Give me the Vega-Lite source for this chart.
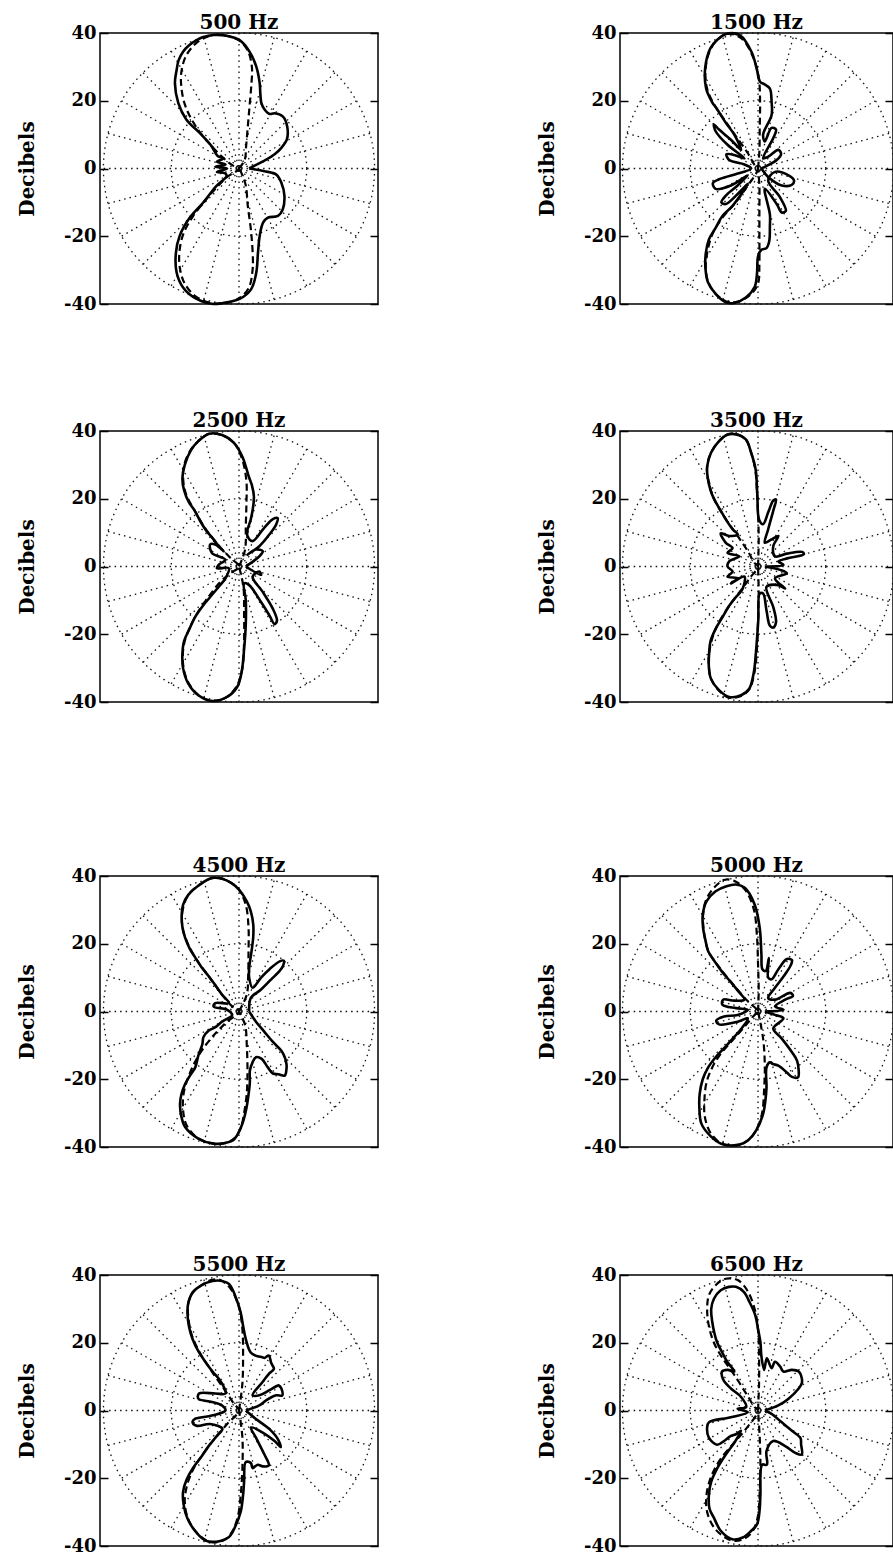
{
"$schema":"https://vega.github.io/schema/vega-lite/v6.json",
"background":"white",
"padding":{"left":16,"top":12,"right":0,"bottom":0},
"config":{
 "view":{"stroke":"black","strokeWidth":1.5},
 "line":{"interpolate":"catmull-rom"},
 "axis":{"grid":false,"domain":false,"tickSize":-8,"tickWidth":1.5,"tickColor":"black","labelFont":"DejaVu Serif","labelFontWeight":"bold","labelFontSize":18,"labelColor":"black","labelPadding":12,"labelFlush":false,"labelOverlap":false,"labelExpr":"datum.value < 0 ? '-' + (-datum.value) : '' + datum.value","titleFont":"DejaVu Serif","titleFontWeight":"bold","titleFontSize":20,"titleColor":"black","titlePadding":26},
 "title":{"font":"DejaVu Serif","fontWeight":"bold","fontSize":20,"color":"black","offset":-9,"frame":"group","anchor":"middle"}
},
"datasets":{
 "spokes":[{"x":40,"y":0,"x2":-40,"y2":0},{"x":38.64,"y":10.35,"x2":-38.64,"y2":-10.35},{"x":34.64,"y":20,"x2":-34.64,"y2":-20},{"x":28.28,"y":28.28,"x2":-28.28,"y2":-28.28},{"x":20,"y":34.64,"x2":-20,"y2":-34.64},{"x":10.35,"y":38.64,"x2":-10.35,"y2":-38.64},{"x":0,"y":40,"x2":0,"y2":-40},{"x":-10.35,"y":38.64,"x2":10.35,"y2":-38.64},{"x":-20,"y":34.64,"x2":20,"y2":-34.64},{"x":-28.28,"y":28.28,"x2":28.28,"y2":-28.28},{"x":-34.64,"y":20,"x2":34.64,"y2":-20},{"x":-38.64,"y":10.35,"x2":38.64,"y2":-10.35}],
 "center":[{"x":0,"y":0}],
 "d500":[
{"s":"m","i":0,"x":3.0,"y":0.0},{"s":"m","i":1,"x":8.0,"y":2.6},{"s":"m","i":2,"x":10.5,"y":4.2},{"s":"m","i":3,"x":12.5,"y":6.1},{"s":"m","i":4,"x":14.1,"y":8.5},{"s":"m","i":5,"x":14.2,"y":12.5},{"s":"m","i":6,"x":12.9,"y":15.4},{"s":"m","i":7,"x":10.5,"y":16.3},{"s":"m","i":8,"x":9.0,"y":16.1},{"s":"m","i":9,"x":7.5,"y":17.5},{"s":"m","i":10,"x":6.6,"y":19.3},{"s":"m","i":11,"x":6.3,"y":22.0},{"s":"m","i":12,"x":6.1,"y":25.2},{"s":"m","i":13,"x":5.1,"y":30.1},{"s":"m","i":14,"x":3.1,"y":34.5},{"s":"m","i":15,"x":0.2,"y":37.9},{"s":"m","i":16,"x":-3.7,"y":39.2},{"s":"m","i":17,"x":-7.6,"y":39.4},{"s":"m","i":18,"x":-10.5,"y":38.8},{"s":"m","i":19,"x":-12.5,"y":37.9},{"s":"m","i":20,"x":-14.8,"y":36.3},{"s":"m","i":21,"x":-16.5,"y":34.5},{"s":"m","i":22,"x":-17.8,"y":32.0},{"s":"m","i":23,"x":-18.4,"y":29.1},{"s":"m","i":24,"x":-18.9,"y":25.2},{"s":"m","i":25,"x":-17.9,"y":19.3},{"s":"m","i":26,"x":-15.5,"y":14.4},{"s":"m","i":27,"x":-11.6,"y":10.5},{"s":"m","i":28,"x":-8.1,"y":6.6},{"s":"m","i":29,"x":-6.2,"y":3.6},{"s":"m","i":30,"x":-4.5,"y":3.0},{"s":"m","i":31,"x":-6.5,"y":2.0},{"s":"m","i":32,"x":-4.0,"y":1.2},{"s":"m","i":33,"x":-7.0,"y":0.5},{"s":"m","i":34,"x":-3.5,"y":0.0},{"s":"m","i":35,"x":-6.5,"y":-1.0},{"s":"m","i":36,"x":-4.0,"y":-1.5},{"s":"m","i":37,"x":-3.7,"y":-2.3},{"s":"m","i":38,"x":-6.7,"y":-5.2},{"s":"m","i":39,"x":-10.6,"y":-10.1},{"s":"m","i":40,"x":-14.5,"y":-14.5},{"s":"m","i":41,"x":-17.5,"y":-19.9},{"s":"m","i":42,"x":-18.6,"y":-24.8},{"s":"m","i":43,"x":-18.4,"y":-30.7},{"s":"m","i":44,"x":-16.5,"y":-35.1},{"s":"m","i":45,"x":-12.5,"y":-38.5},{"s":"m","i":46,"x":-7.6,"y":-40.0},{"s":"m","i":47,"x":-4.7,"y":-39.7},{"s":"m","i":48,"x":0.2,"y":-38.5},{"s":"m","i":49,"x":3.6,"y":-35.6},{"s":"m","i":50,"x":5.1,"y":-30.7},{"s":"m","i":51,"x":5.6,"y":-24.8},{"s":"m","i":52,"x":6.1,"y":-19.9},{"s":"m","i":53,"x":7.1,"y":-16.0},{"s":"m","i":54,"x":8.5,"y":-14.5},{"s":"m","i":55,"x":11.5,"y":-14.0},{"s":"m","i":56,"x":12.9,"y":-12.1},{"s":"m","i":57,"x":13.4,"y":-8.1},{"s":"m","i":58,"x":12.5,"y":-4.2},{"s":"m","i":59,"x":11.0,"y":-1.8},{"s":"m","i":60,"x":7.5,"y":-0.8},{"s":"m","i":61,"x":3.0,"y":0.0},
{"s":"t","i":0,"x":0.0,"y":0.0},{"s":"t","i":1,"x":1.7,"y":2.6},{"s":"t","i":2,"x":2.1,"y":6.6},{"s":"t","i":3,"x":2.6,"y":12.4},{"s":"t","i":4,"x":3.1,"y":18.3},{"s":"t","i":5,"x":3.6,"y":24.2},{"s":"t","i":6,"x":3.8,"y":30.0},{"s":"t","i":7,"x":2.5,"y":35.0},{"s":"t","i":8,"x":0.0,"y":37.8},{"s":"t","i":9,"x":-3.7,"y":39.2},{"s":"t","i":10,"x":-7.6,"y":39.4},{"s":"t","i":11,"x":-12.0,"y":37.5},{"s":"t","i":12,"x":-15.5,"y":33.5},{"s":"t","i":13,"x":-17.0,"y":28.5},{"s":"t","i":14,"x":-17.0,"y":24.0},{"s":"t","i":15,"x":-16.0,"y":19.0},{"s":"t","i":16,"x":-14.0,"y":14.5},{"s":"t","i":17,"x":-11.0,"y":10.0},{"s":"t","i":18,"x":-7.5,"y":6.0},{"s":"t","i":19,"x":-4.5,"y":3.0},{"s":"t","i":20,"x":-2.0,"y":1.0},{"s":"t","i":21,"x":0.0,"y":0.0},{"s":"t","i":22,"x":-3.5,"y":-2.5},{"s":"t","i":23,"x":-6.5,"y":-5.5},{"s":"t","i":24,"x":-10.0,"y":-9.5},{"s":"t","i":25,"x":-13.5,"y":-14.0},{"s":"t","i":26,"x":-16.3,"y":-19.0},{"s":"t","i":27,"x":-17.5,"y":-24.0},{"s":"t","i":28,"x":-17.5,"y":-29.0},{"s":"t","i":29,"x":-16.0,"y":-34.0},{"s":"t","i":30,"x":-12.5,"y":-38.0},{"s":"t","i":31,"x":-7.6,"y":-39.8},{"s":"t","i":32,"x":-3.0,"y":-39.5},{"s":"t","i":33,"x":0.5,"y":-38.0},{"s":"t","i":34,"x":3.0,"y":-35.0},{"s":"t","i":35,"x":4.0,"y":-30.0},{"s":"t","i":36,"x":4.1,"y":-26.8},{"s":"t","i":37,"x":3.6,"y":-18.9},{"s":"t","i":38,"x":2.6,"y":-11.1},{"s":"t","i":39,"x":2.0,"y":-5.0},{"s":"t","i":40,"x":0.8,"y":-1.5},{"s":"t","i":41,"x":0.0,"y":0.0}
 ],
 "d1500":[
{"s":"m","i":0,"x":1.0,"y":0.0},{"s":"m","i":1,"x":2.0,"y":0.5},{"s":"m","i":2,"x":5.5,"y":2.5},{"s":"m","i":3,"x":6.8,"y":4.3},{"s":"m","i":4,"x":6.0,"y":5.5},{"s":"m","i":5,"x":3.0,"y":3.5},{"s":"m","i":6,"x":1.5,"y":3.0},{"s":"m","i":7,"x":4.5,"y":9.0},{"s":"m","i":8,"x":5.3,"y":11.5},{"s":"m","i":9,"x":4.0,"y":12.0},{"s":"m","i":10,"x":2.0,"y":8.0},{"s":"m","i":11,"x":1.5,"y":10.0},{"s":"m","i":12,"x":4.0,"y":15.8},{"s":"m","i":13,"x":4.0,"y":19.7},{"s":"m","i":14,"x":3.5,"y":23.6},{"s":"m","i":15,"x":2.0,"y":24.8},{"s":"m","i":16,"x":0.6,"y":25.6},{"s":"m","i":17,"x":-0.4,"y":29.5},{"s":"m","i":18,"x":-1.9,"y":34.4},{"s":"m","i":19,"x":-5.3,"y":39.3},{"s":"m","i":20,"x":-9.2,"y":39.8},{"s":"m","i":21,"x":-12.0,"y":38.0},{"s":"m","i":22,"x":-14.1,"y":35.4},{"s":"m","i":23,"x":-15.6,"y":29.5},{"s":"m","i":24,"x":-15.3,"y":23.6},{"s":"m","i":25,"x":-13.6,"y":19.7},{"s":"m","i":26,"x":-12.2,"y":17.7},{"s":"m","i":27,"x":-9.5,"y":13.5},{"s":"m","i":28,"x":-7.0,"y":10.0},{"s":"m","i":29,"x":-5.0,"y":5.5},{"s":"m","i":30,"x":-8.0,"y":8.5},{"s":"m","i":31,"x":-11.5,"y":11.5},{"s":"m","i":32,"x":-13.0,"y":13.0},{"s":"m","i":33,"x":-12.5,"y":11.0},{"s":"m","i":34,"x":-9.0,"y":7.0},{"s":"m","i":35,"x":-4.0,"y":3.0},{"s":"m","i":36,"x":-7.0,"y":4.0},{"s":"m","i":37,"x":-9.3,"y":4.2},{"s":"m","i":38,"x":-8.5,"y":2.5},{"s":"m","i":39,"x":-4.0,"y":1.2},{"s":"m","i":40,"x":-2.0,"y":0.0},{"s":"m","i":41,"x":-6.0,"y":-1.5},{"s":"m","i":42,"x":-11.0,"y":-3.0},{"s":"m","i":43,"x":-13.3,"y":-4.3},{"s":"m","i":44,"x":-12.5,"y":-6.0},{"s":"m","i":45,"x":-8.0,"y":-5.0},{"s":"m","i":46,"x":-3.0,"y":-2.0},{"s":"m","i":47,"x":-6.0,"y":-5.0},{"s":"m","i":48,"x":-9.5,"y":-8.0},{"s":"m","i":49,"x":-10.8,"y":-10.0},{"s":"m","i":50,"x":-9.5,"y":-10.5},{"s":"m","i":51,"x":-5.5,"y":-7.0},{"s":"m","i":52,"x":-3.0,"y":-4.5},{"s":"m","i":53,"x":-7.5,"y":-11.0},{"s":"m","i":54,"x":-10.5,"y":-14.0},{"s":"m","i":55,"x":-12.5,"y":-17.5},{"s":"m","i":56,"x":-14.5,"y":-21.0},{"s":"m","i":57,"x":-15.4,"y":-25.0},{"s":"m","i":58,"x":-15.5,"y":-29.5},{"s":"m","i":59,"x":-14.8,"y":-33.5},{"s":"m","i":60,"x":-12.5,"y":-37.0},{"s":"m","i":61,"x":-9.5,"y":-39.5},{"s":"m","i":62,"x":-7.0,"y":-39.7},{"s":"m","i":63,"x":-3.5,"y":-38.0},{"s":"m","i":64,"x":-1.0,"y":-35.0},{"s":"m","i":65,"x":-0.3,"y":-31.0},{"s":"m","i":66,"x":0.0,"y":-26.0},{"s":"m","i":67,"x":1.0,"y":-24.0},{"s":"m","i":68,"x":2.5,"y":-23.5},{"s":"m","i":69,"x":3.3,"y":-21.5},{"s":"m","i":70,"x":3.5,"y":-17.0},{"s":"m","i":71,"x":3.5,"y":-13.6},{"s":"m","i":72,"x":2.0,"y":-6.0},{"s":"m","i":73,"x":5.5,"y":-10.5},{"s":"m","i":74,"x":7.0,"y":-13.0},{"s":"m","i":75,"x":8.2,"y":-12.5},{"s":"m","i":76,"x":6.5,"y":-8.5},{"s":"m","i":77,"x":3.0,"y":-3.5},{"s":"m","i":78,"x":5.0,"y":-1.0},{"s":"m","i":79,"x":9.0,"y":-2.0},{"s":"m","i":80,"x":10.6,"y":-3.5},{"s":"m","i":81,"x":10.0,"y":-4.8},{"s":"m","i":82,"x":7.0,"y":-5.0},{"s":"m","i":83,"x":3.0,"y":-2.5},{"s":"m","i":84,"x":1.0,"y":0.0},
{"s":"t","i":0,"x":0.0,"y":0.0},{"s":"t","i":1,"x":0.4,"y":5.0},{"s":"t","i":2,"x":0.5,"y":12.0},{"s":"t","i":3,"x":0.6,"y":20.0},{"s":"t","i":4,"x":0.2,"y":27.0},{"s":"t","i":5,"x":-1.5,"y":33.0},{"s":"t","i":6,"x":-5.0,"y":38.5},{"s":"t","i":7,"x":-9.2,"y":39.8},{"s":"t","i":8,"x":-12.5,"y":37.5},{"s":"t","i":9,"x":-14.5,"y":34.0},{"s":"t","i":10,"x":-15.5,"y":29.0},{"s":"t","i":11,"x":-15.0,"y":23.5},{"s":"t","i":12,"x":-13.0,"y":19.0},{"s":"t","i":13,"x":-10.0,"y":14.5},{"s":"t","i":14,"x":-6.5,"y":9.5},{"s":"t","i":15,"x":-3.0,"y":4.5},{"s":"t","i":16,"x":-1.0,"y":1.0},{"s":"t","i":17,"x":0.0,"y":0.0},{"s":"t","i":18,"x":-3.0,"y":-5.0},{"s":"t","i":19,"x":-7.0,"y":-10.5},{"s":"t","i":20,"x":-10.5,"y":-14.5},{"s":"t","i":21,"x":-13.5,"y":-19.5},{"s":"t","i":22,"x":-15.0,"y":-25.0},{"s":"t","i":23,"x":-15.4,"y":-30.0},{"s":"t","i":24,"x":-14.5,"y":-34.0},{"s":"t","i":25,"x":-12.0,"y":-37.5},{"s":"t","i":26,"x":-8.5,"y":-39.5},{"s":"t","i":27,"x":-5.0,"y":-39.0},{"s":"t","i":28,"x":-2.0,"y":-37.0},{"s":"t","i":29,"x":0.0,"y":-34.0},{"s":"t","i":30,"x":0.4,"y":-28.0},{"s":"t","i":31,"x":0.4,"y":-20.0},{"s":"t","i":32,"x":0.4,"y":-12.0},{"s":"t","i":33,"x":0.4,"y":-5.0},{"s":"t","i":34,"x":0.0,"y":0.0}
 ],
 "d2500":[
{"s":"m","i":0,"x":2.0,"y":0.0},{"s":"m","i":1,"x":6.0,"y":3.0},{"s":"m","i":2,"x":7.0,"y":4.5},{"s":"m","i":3,"x":5.0,"y":5.0},{"s":"m","i":4,"x":2.5,"y":3.5},{"s":"m","i":5,"x":6.0,"y":6.0},{"s":"m","i":6,"x":9.0,"y":9.5},{"s":"m","i":7,"x":11.0,"y":12.5},{"s":"m","i":8,"x":11.4,"y":14.3},{"s":"m","i":9,"x":10.0,"y":14.0},{"s":"m","i":10,"x":7.5,"y":11.5},{"s":"m","i":11,"x":4.0,"y":7.5},{"s":"m","i":12,"x":2.5,"y":9.0},{"s":"m","i":13,"x":2.5,"y":10.8},{"s":"m","i":14,"x":3.5,"y":14.0},{"s":"m","i":15,"x":4.4,"y":20.6},{"s":"m","i":16,"x":3.8,"y":24.0},{"s":"m","i":17,"x":2.9,"y":26.5},{"s":"m","i":18,"x":1.0,"y":32.4},{"s":"m","i":19,"x":-1.5,"y":36.5},{"s":"m","i":20,"x":-5.0,"y":38.8},{"s":"m","i":21,"x":-8.8,"y":39.2},{"s":"m","i":22,"x":-12.0,"y":37.0},{"s":"m","i":23,"x":-14.2,"y":34.3},{"s":"m","i":24,"x":-16.0,"y":30.0},{"s":"m","i":25,"x":-16.7,"y":26.0},{"s":"m","i":26,"x":-16.2,"y":22.5},{"s":"m","i":27,"x":-14.8,"y":19.0},{"s":"m","i":28,"x":-13.2,"y":16.7},{"s":"m","i":29,"x":-11.5,"y":13.5},{"s":"m","i":30,"x":-9.8,"y":10.8},{"s":"m","i":31,"x":-7.5,"y":8.0},{"s":"m","i":32,"x":-5.9,"y":5.9},{"s":"m","i":33,"x":-4.5,"y":4.5},{"s":"m","i":34,"x":-7.0,"y":6.5},{"s":"m","i":35,"x":-8.5,"y":6.5},{"s":"m","i":36,"x":-8.0,"y":4.0},{"s":"m","i":37,"x":-4.0,"y":2.0},{"s":"m","i":38,"x":-6.0,"y":0.5},{"s":"m","i":39,"x":-6.5,"y":-0.5},{"s":"m","i":40,"x":-3.0,"y":-0.5},{"s":"m","i":41,"x":-4.0,"y":-3.5},{"s":"m","i":42,"x":-5.9,"y":-5.9},{"s":"m","i":43,"x":-8.5,"y":-9.0},{"s":"m","i":44,"x":-10.8,"y":-11.8},{"s":"m","i":45,"x":-13.0,"y":-15.0},{"s":"m","i":46,"x":-14.7,"y":-18.6},{"s":"m","i":47,"x":-16.2,"y":-22.0},{"s":"m","i":48,"x":-16.7,"y":-26.0},{"s":"m","i":49,"x":-16.5,"y":-30.0},{"s":"m","i":50,"x":-15.0,"y":-34.5},{"s":"m","i":51,"x":-12.0,"y":-38.0},{"s":"m","i":52,"x":-7.8,"y":-39.7},{"s":"m","i":53,"x":-3.5,"y":-38.5},{"s":"m","i":54,"x":-0.5,"y":-35.5},{"s":"m","i":55,"x":0.8,"y":-31.0},{"s":"m","i":56,"x":1.5,"y":-24.5},{"s":"m","i":57,"x":2.0,"y":-17.0},{"s":"m","i":58,"x":2.0,"y":-10.0},{"s":"m","i":59,"x":1.5,"y":-5.0},{"s":"m","i":60,"x":3.0,"y":-5.5},{"s":"m","i":61,"x":6.5,"y":-10.5},{"s":"m","i":62,"x":9.0,"y":-14.5},{"s":"m","i":63,"x":10.5,"y":-17.0},{"s":"m","i":64,"x":11.2,"y":-16.0},{"s":"m","i":65,"x":10.0,"y":-12.5},{"s":"m","i":66,"x":7.0,"y":-7.5},{"s":"m","i":67,"x":4.0,"y":-3.0},{"s":"m","i":68,"x":6.0,"y":-1.5},{"s":"m","i":69,"x":6.5,"y":-2.5},{"s":"m","i":70,"x":2.0,"y":0.0},
{"s":"t","i":0,"x":0.0,"y":0.0},{"s":"t","i":1,"x":1.8,"y":5.0},{"s":"t","i":2,"x":2.0,"y":12.0},{"s":"t","i":3,"x":2.2,"y":19.0},{"s":"t","i":4,"x":2.2,"y":25.0},{"s":"t","i":5,"x":1.0,"y":31.5},{"s":"t","i":6,"x":-1.5,"y":36.5},{"s":"t","i":7,"x":-5.0,"y":38.8},{"s":"t","i":8,"x":-8.8,"y":39.2},{"s":"t","i":9,"x":-12.0,"y":37.0},{"s":"t","i":10,"x":-14.5,"y":34.0},{"s":"t","i":11,"x":-16.3,"y":29.5},{"s":"t","i":12,"x":-16.4,"y":25.0},{"s":"t","i":13,"x":-15.5,"y":21.0},{"s":"t","i":14,"x":-13.2,"y":16.7},{"s":"t","i":15,"x":-9.8,"y":11.0},{"s":"t","i":16,"x":-6.0,"y":6.2},{"s":"t","i":17,"x":-2.5,"y":2.5},{"s":"t","i":18,"x":0.0,"y":0.0},{"s":"t","i":19,"x":-2.5,"y":-2.0},{"s":"t","i":20,"x":-5.5,"y":-4.5},{"s":"t","i":21,"x":-9.0,"y":-9.0},{"s":"t","i":22,"x":-11.5,"y":-12.5},{"s":"t","i":23,"x":-14.0,"y":-17.0},{"s":"t","i":24,"x":-16.0,"y":-22.0},{"s":"t","i":25,"x":-16.6,"y":-27.0},{"s":"t","i":26,"x":-16.0,"y":-31.5},{"s":"t","i":27,"x":-14.5,"y":-35.0},{"s":"t","i":28,"x":-11.5,"y":-38.3},{"s":"t","i":29,"x":-7.8,"y":-39.7},{"s":"t","i":30,"x":-3.5,"y":-38.5},{"s":"t","i":31,"x":-0.5,"y":-35.0},{"s":"t","i":32,"x":1.0,"y":-30.0},{"s":"t","i":33,"x":1.5,"y":-22.0},{"s":"t","i":34,"x":1.5,"y":-14.0},{"s":"t","i":35,"x":1.3,"y":-6.0},{"s":"t","i":36,"x":0.0,"y":0.0}
 ],
 "d3500":[
{"s":"m","i":0,"x":2.0,"y":0.0},{"s":"m","i":1,"x":7.5,"y":0.5},{"s":"m","i":2,"x":6.0,"y":1.5},{"s":"m","i":3,"x":9.0,"y":2.5},{"s":"m","i":4,"x":13.5,"y":3.6},{"s":"m","i":5,"x":13.0,"y":4.3},{"s":"m","i":6,"x":8.5,"y":3.8},{"s":"m","i":7,"x":5.0,"y":3.0},{"s":"m","i":8,"x":4.5,"y":6.0},{"s":"m","i":9,"x":6.0,"y":9.0},{"s":"m","i":10,"x":4.0,"y":8.0},{"s":"m","i":11,"x":2.0,"y":7.0},{"s":"m","i":12,"x":3.0,"y":11.0},{"s":"m","i":13,"x":4.5,"y":16.5},{"s":"m","i":14,"x":5.3,"y":19.8},{"s":"m","i":15,"x":4.5,"y":19.5},{"s":"m","i":16,"x":3.0,"y":16.0},{"s":"m","i":17,"x":1.5,"y":12.5},{"s":"m","i":18,"x":0.3,"y":13.9},{"s":"m","i":19,"x":-0.2,"y":20.8},{"s":"m","i":20,"x":-0.7,"y":28.6},{"s":"m","i":21,"x":-2.0,"y":33.5},{"s":"m","i":22,"x":-3.6,"y":37.5},{"s":"m","i":23,"x":-6.5,"y":39.0},{"s":"m","i":24,"x":-9.0,"y":38.9},{"s":"m","i":25,"x":-11.5,"y":37.0},{"s":"m","i":26,"x":-13.9,"y":33.5},{"s":"m","i":27,"x":-15.0,"y":29.5},{"s":"m","i":28,"x":-14.9,"y":26.7},{"s":"m","i":29,"x":-14.0,"y":22.5},{"s":"m","i":30,"x":-12.9,"y":19.8},{"s":"m","i":31,"x":-11.0,"y":16.5},{"s":"m","i":32,"x":-9.5,"y":13.9},{"s":"m","i":33,"x":-7.5,"y":11.0},{"s":"m","i":34,"x":-6.0,"y":9.5},{"s":"m","i":35,"x":-8.5,"y":9.0},{"s":"m","i":36,"x":-11.0,"y":9.8},{"s":"m","i":37,"x":-9.5,"y":7.0},{"s":"m","i":38,"x":-7.5,"y":5.5},{"s":"m","i":39,"x":-9.0,"y":4.0},{"s":"m","i":40,"x":-5.5,"y":3.0},{"s":"m","i":41,"x":-8.5,"y":1.5},{"s":"m","i":42,"x":-9.0,"y":0.0},{"s":"m","i":43,"x":-7.5,"y":-1.5},{"s":"m","i":44,"x":-9.0,"y":-3.0},{"s":"m","i":45,"x":-6.0,"y":-3.5},{"s":"m","i":46,"x":-8.0,"y":-5.0},{"s":"m","i":47,"x":-4.0,"y":-3.0},{"s":"m","i":48,"x":-4.6,"y":-6.7},{"s":"m","i":49,"x":-6.5,"y":-9.0},{"s":"m","i":50,"x":-8.5,"y":-11.6},{"s":"m","i":51,"x":-10.5,"y":-15.0},{"s":"m","i":52,"x":-12.5,"y":-18.4},{"s":"m","i":53,"x":-14.0,"y":-22.0},{"s":"m","i":54,"x":-14.4,"y":-25.3},{"s":"m","i":55,"x":-14.5,"y":-29.5},{"s":"m","i":56,"x":-13.9,"y":-33.1},{"s":"m","i":57,"x":-11.5,"y":-36.5},{"s":"m","i":58,"x":-8.5,"y":-38.5},{"s":"m","i":59,"x":-5.0,"y":-38.0},{"s":"m","i":60,"x":-2.6,"y":-36.1},{"s":"m","i":61,"x":-1.2,"y":-31.0},{"s":"m","i":62,"x":-0.7,"y":-26.3},{"s":"m","i":63,"x":-0.2,"y":-20.0},{"s":"m","i":64,"x":0.1,"y":-15.5},{"s":"m","i":65,"x":0.5,"y":-8.0},{"s":"m","i":66,"x":1.5,"y":-8.0},{"s":"m","i":67,"x":2.5,"y":-13.0},{"s":"m","i":68,"x":3.5,"y":-17.5},{"s":"m","i":69,"x":4.5,"y":-18.0},{"s":"m","i":70,"x":5.3,"y":-16.5},{"s":"m","i":71,"x":4.5,"y":-12.0},{"s":"m","i":72,"x":2.5,"y":-6.0},{"s":"m","i":73,"x":6.0,"y":-5.5},{"s":"m","i":74,"x":8.0,"y":-6.5},{"s":"m","i":75,"x":5.0,"y":-3.5},{"s":"m","i":76,"x":8.5,"y":-2.0},{"s":"m","i":77,"x":6.5,"y":-1.0},{"s":"m","i":78,"x":2.0,"y":0.0},
{"s":"t","i":0,"x":0.0,"y":0.0},{"s":"t","i":1,"x":0.2,"y":8.0},{"s":"t","i":2,"x":0.0,"y":16.0},{"s":"t","i":3,"x":-0.3,"y":22.0},{"s":"t","i":4,"x":-0.8,"y":28.5},{"s":"t","i":5,"x":-2.0,"y":33.5},{"s":"t","i":6,"x":-3.6,"y":37.5},{"s":"t","i":7,"x":-6.5,"y":39.2},{"s":"t","i":8,"x":-9.0,"y":39.0},{"s":"t","i":9,"x":-11.5,"y":37.0},{"s":"t","i":10,"x":-13.9,"y":33.5},{"s":"t","i":11,"x":-15.0,"y":29.5},{"s":"t","i":12,"x":-14.9,"y":26.7},{"s":"t","i":13,"x":-13.0,"y":20.0},{"s":"t","i":14,"x":-9.5,"y":14.0},{"s":"t","i":15,"x":-6.0,"y":9.0},{"s":"t","i":16,"x":-3.0,"y":4.5},{"s":"t","i":17,"x":-1.0,"y":1.0},{"s":"t","i":18,"x":0.0,"y":0.0},{"s":"t","i":19,"x":-2.5,"y":-3.5},{"s":"t","i":20,"x":-5.0,"y":-7.0},{"s":"t","i":21,"x":-8.5,"y":-11.6},{"s":"t","i":22,"x":-12.5,"y":-18.4},{"s":"t","i":23,"x":-14.4,"y":-25.3},{"s":"t","i":24,"x":-14.5,"y":-29.5},{"s":"t","i":25,"x":-13.9,"y":-33.1},{"s":"t","i":26,"x":-11.5,"y":-36.7},{"s":"t","i":27,"x":-8.5,"y":-38.7},{"s":"t","i":28,"x":-5.0,"y":-38.2},{"s":"t","i":29,"x":-2.6,"y":-36.3},{"s":"t","i":30,"x":-1.0,"y":-31.0},{"s":"t","i":31,"x":-0.3,"y":-24.0},{"s":"t","i":32,"x":0.0,"y":-16.0},{"s":"t","i":33,"x":0.2,"y":-8.0},{"s":"t","i":34,"x":0.0,"y":0.0}
 ],
 "d4500":[
{"s":"m","i":0,"x":3.0,"y":0.0},{"s":"m","i":1,"x":3.5,"y":4.0},{"s":"m","i":2,"x":6.5,"y":6.5},{"s":"m","i":3,"x":9.5,"y":9.5},{"s":"m","i":4,"x":12.0,"y":12.0},{"s":"m","i":5,"x":13.0,"y":13.5},{"s":"m","i":6,"x":13.2,"y":15.0},{"s":"m","i":7,"x":12.0,"y":14.8},{"s":"m","i":8,"x":9.0,"y":12.5},{"s":"m","i":9,"x":6.5,"y":10.0},{"s":"m","i":10,"x":4.0,"y":7.0},{"s":"m","i":11,"x":3.0,"y":10.0},{"s":"m","i":12,"x":3.0,"y":12.9},{"s":"m","i":13,"x":3.7,"y":17.8},{"s":"m","i":14,"x":4.2,"y":22.0},{"s":"m","i":15,"x":4.2,"y":25.7},{"s":"m","i":16,"x":3.5,"y":29.5},{"s":"m","i":17,"x":2.3,"y":32.5},{"s":"m","i":18,"x":0.0,"y":36.0},{"s":"m","i":19,"x":-2.2,"y":37.9},{"s":"m","i":20,"x":-5.0,"y":39.2},{"s":"m","i":21,"x":-8.0,"y":39.4},{"s":"m","i":22,"x":-11.5,"y":37.5},{"s":"m","i":23,"x":-14.9,"y":34.5},{"s":"m","i":24,"x":-16.5,"y":31.5},{"s":"m","i":25,"x":-16.9,"y":28.6},{"s":"m","i":26,"x":-16.7,"y":25.0},{"s":"m","i":27,"x":-15.9,"y":21.8},{"s":"m","i":28,"x":-14.5,"y":18.5},{"s":"m","i":29,"x":-12.9,"y":15.9},{"s":"m","i":30,"x":-11.0,"y":13.0},{"s":"m","i":31,"x":-9.0,"y":10.5},{"s":"m","i":32,"x":-7.0,"y":7.8},{"s":"m","i":33,"x":-5.1,"y":5.1},{"s":"m","i":34,"x":-3.0,"y":2.5},{"s":"m","i":35,"x":-7.0,"y":2.5},{"s":"m","i":36,"x":-7.5,"y":1.5},{"s":"m","i":37,"x":-3.5,"y":0.5},{"s":"m","i":38,"x":-2.0,"y":-1.0},{"s":"m","i":39,"x":-5.0,"y":-3.0},{"s":"m","i":40,"x":-7.1,"y":-4.7},{"s":"m","i":41,"x":-9.0,"y":-5.7},{"s":"m","i":42,"x":-10.5,"y":-7.6},{"s":"m","i":43,"x":-10.8,"y":-9.6},{"s":"m","i":44,"x":-12.0,"y":-13.0},{"s":"m","i":45,"x":-12.9,"y":-16.5},{"s":"m","i":46,"x":-14.5,"y":-19.0},{"s":"m","i":47,"x":-15.9,"y":-21.4},{"s":"m","i":48,"x":-17.0,"y":-24.5},{"s":"m","i":49,"x":-17.4,"y":-27.3},{"s":"m","i":50,"x":-17.0,"y":-31.0},{"s":"m","i":51,"x":-15.9,"y":-34.1},{"s":"m","i":52,"x":-12.0,"y":-37.5},{"s":"m","i":53,"x":-7.5,"y":-39.0},{"s":"m","i":54,"x":-4.0,"y":-38.8},{"s":"m","i":55,"x":-1.7,"y":-38.0},{"s":"m","i":56,"x":0.0,"y":-35.5},{"s":"m","i":57,"x":1.3,"y":-32.2},{"s":"m","i":58,"x":2.2,"y":-28.5},{"s":"m","i":59,"x":2.7,"y":-25.3},{"s":"m","i":60,"x":3.2,"y":-21.0},{"s":"m","i":61,"x":3.2,"y":-17.5},{"s":"m","i":62,"x":4.0,"y":-15.0},{"s":"m","i":63,"x":5.0,"y":-13.5},{"s":"m","i":64,"x":6.7,"y":-14.0},{"s":"m","i":65,"x":8.5,"y":-16.5},{"s":"m","i":66,"x":10.0,"y":-18.3},{"s":"m","i":67,"x":11.6,"y":-18.5},{"s":"m","i":68,"x":13.5,"y":-18.9},{"s":"m","i":69,"x":14.0,"y":-17.0},{"s":"m","i":70,"x":14.0,"y":-15.5},{"s":"m","i":71,"x":13.5,"y":-13.5},{"s":"m","i":72,"x":12.5,"y":-11.6},{"s":"m","i":73,"x":10.0,"y":-9.0},{"s":"m","i":74,"x":7.5,"y":-6.0},{"s":"m","i":75,"x":5.0,"y":-3.0},{"s":"m","i":76,"x":3.0,"y":0.0},
{"s":"t","i":0,"x":0.0,"y":0.0},{"s":"t","i":1,"x":2.3,"y":5.0},{"s":"t","i":2,"x":2.7,"y":10.0},{"s":"t","i":3,"x":2.8,"y":17.0},{"s":"t","i":4,"x":2.8,"y":25.0},{"s":"t","i":5,"x":2.0,"y":31.5},{"s":"t","i":6,"x":0.0,"y":36.0},{"s":"t","i":7,"x":-2.2,"y":37.9},{"s":"t","i":8,"x":-5.0,"y":39.2},{"s":"t","i":9,"x":-8.0,"y":39.4},{"s":"t","i":10,"x":-11.5,"y":37.5},{"s":"t","i":11,"x":-14.9,"y":34.5},{"s":"t","i":12,"x":-16.6,"y":30.0},{"s":"t","i":13,"x":-16.7,"y":25.0},{"s":"t","i":14,"x":-15.5,"y":21.0},{"s":"t","i":15,"x":-12.9,"y":15.9},{"s":"t","i":16,"x":-9.0,"y":10.5},{"s":"t","i":17,"x":-5.1,"y":5.1},{"s":"t","i":18,"x":-2.0,"y":1.5},{"s":"t","i":19,"x":0.0,"y":0.0},{"s":"t","i":20,"x":-3.5,"y":-3.0},{"s":"t","i":21,"x":-6.5,"y":-6.0},{"s":"t","i":22,"x":-9.5,"y":-9.5},{"s":"t","i":23,"x":-12.5,"y":-14.0},{"s":"t","i":24,"x":-14.8,"y":-19.0},{"s":"t","i":25,"x":-16.3,"y":-24.0},{"s":"t","i":26,"x":-16.5,"y":-29.0},{"s":"t","i":27,"x":-15.5,"y":-33.5},{"s":"t","i":28,"x":-12.0,"y":-37.5},{"s":"t","i":29,"x":-7.5,"y":-39.0},{"s":"t","i":30,"x":-4.0,"y":-38.8},{"s":"t","i":31,"x":-1.5,"y":-37.5},{"s":"t","i":32,"x":0.5,"y":-34.5},{"s":"t","i":33,"x":1.5,"y":-30.0},{"s":"t","i":34,"x":2.3,"y":-24.0},{"s":"t","i":35,"x":2.5,"y":-17.0},{"s":"t","i":36,"x":2.3,"y":-10.0},{"s":"t","i":37,"x":1.8,"y":-4.0},{"s":"t","i":38,"x":0.0,"y":0.0}
 ],
 "d5000":[
{"s":"m","i":0,"x":2.0,"y":0.0},{"s":"m","i":1,"x":7.5,"y":0.5},{"s":"m","i":2,"x":5.0,"y":1.5},{"s":"m","i":3,"x":8.0,"y":3.5},{"s":"m","i":4,"x":10.3,"y":4.6},{"s":"m","i":5,"x":9.5,"y":5.5},{"s":"m","i":6,"x":5.0,"y":3.5},{"s":"m","i":7,"x":3.0,"y":4.0},{"s":"m","i":8,"x":5.0,"y":7.0},{"s":"m","i":9,"x":8.0,"y":11.0},{"s":"m","i":10,"x":9.8,"y":14.0},{"s":"m","i":11,"x":10.0,"y":15.2},{"s":"m","i":12,"x":8.5,"y":15.5},{"s":"m","i":13,"x":6.0,"y":12.5},{"s":"m","i":14,"x":4.0,"y":9.5},{"s":"m","i":15,"x":3.0,"y":10.0},{"s":"m","i":16,"x":3.2,"y":15.8},{"s":"m","i":17,"x":2.3,"y":12.0},{"s":"m","i":18,"x":1.3,"y":12.5},{"s":"m","i":19,"x":1.0,"y":16.9},{"s":"m","i":20,"x":0.5,"y":24.7},{"s":"m","i":21,"x":-1.0,"y":31.6},{"s":"m","i":22,"x":-3.9,"y":36.5},{"s":"m","i":23,"x":-6.5,"y":37.5},{"s":"m","i":24,"x":-9.3,"y":37.0},{"s":"m","i":25,"x":-12.5,"y":35.5},{"s":"m","i":26,"x":-15.2,"y":32.5},{"s":"m","i":27,"x":-16.3,"y":28.5},{"s":"m","i":28,"x":-16.2,"y":24.7},{"s":"m","i":29,"x":-15.5,"y":21.0},{"s":"m","i":30,"x":-14.7,"y":17.8},{"s":"m","i":31,"x":-12.8,"y":14.8},{"s":"m","i":32,"x":-10.8,"y":12.0},{"s":"m","i":33,"x":-8.3,"y":9.0},{"s":"m","i":34,"x":-5.9,"y":6.1},{"s":"m","i":35,"x":-4.0,"y":3.5},{"s":"m","i":36,"x":-7.0,"y":3.2},{"s":"m","i":37,"x":-10.3,"y":3.5},{"s":"m","i":38,"x":-10.5,"y":2.0},{"s":"m","i":39,"x":-6.5,"y":1.0},{"s":"m","i":40,"x":-3.0,"y":0.5},{"s":"m","i":41,"x":-6.0,"y":-1.0},{"s":"m","i":42,"x":-10.0,"y":-1.5},{"s":"m","i":43,"x":-12.3,"y":-2.7},{"s":"m","i":44,"x":-11.5,"y":-3.8},{"s":"m","i":45,"x":-6.0,"y":-3.0},{"s":"m","i":46,"x":-3.0,"y":-2.0},{"s":"m","i":47,"x":-5.4,"y":-5.7},{"s":"m","i":48,"x":-7.5,"y":-8.0},{"s":"m","i":49,"x":-9.8,"y":-10.6},{"s":"m","i":50,"x":-12.5,"y":-13.5},{"s":"m","i":51,"x":-14.7,"y":-16.5},{"s":"m","i":52,"x":-16.3,"y":-20.0},{"s":"m","i":53,"x":-17.2,"y":-24.3},{"s":"m","i":54,"x":-17.3,"y":-28.5},{"s":"m","i":55,"x":-16.7,"y":-33.1},{"s":"m","i":56,"x":-14.0,"y":-36.8},{"s":"m","i":57,"x":-11.0,"y":-39.0},{"s":"m","i":58,"x":-8.8,"y":-39.5},{"s":"m","i":59,"x":-5.5,"y":-39.3},{"s":"m","i":60,"x":-2.9,"y":-38.0},{"s":"m","i":61,"x":-0.5,"y":-35.0},{"s":"m","i":62,"x":1.5,"y":-30.2},{"s":"m","i":63,"x":2.2,"y":-26.0},{"s":"m","i":64,"x":2.5,"y":-22.4},{"s":"m","i":65,"x":2.5,"y":-16.5},{"s":"m","i":66,"x":3.5,"y":-15.0},{"s":"m","i":67,"x":4.4,"y":-15.5},{"s":"m","i":68,"x":6.0,"y":-16.0},{"s":"m","i":69,"x":8.5,"y":-18.0},{"s":"m","i":70,"x":10.0,"y":-19.3},{"s":"m","i":71,"x":11.8,"y":-19.4},{"s":"m","i":72,"x":12.0,"y":-17.5},{"s":"m","i":73,"x":11.5,"y":-14.5},{"s":"m","i":74,"x":10.0,"y":-12.0},{"s":"m","i":75,"x":7.0,"y":-8.0},{"s":"m","i":76,"x":4.5,"y":-5.0},{"s":"m","i":77,"x":7.5,"y":-2.0},{"s":"m","i":78,"x":5.0,"y":-1.0},{"s":"m","i":79,"x":2.0,"y":0.0},
{"s":"t","i":0,"x":0.0,"y":0.0},{"s":"t","i":1,"x":0.2,"y":6.0},{"s":"t","i":2,"x":0.0,"y":14.0},{"s":"t","i":3,"x":-0.3,"y":22.0},{"s":"t","i":4,"x":-1.2,"y":30.0},{"s":"t","i":5,"x":-3.5,"y":35.5},{"s":"t","i":6,"x":-6.5,"y":38.3},{"s":"t","i":7,"x":-9.8,"y":38.9},{"s":"t","i":8,"x":-13.0,"y":36.5},{"s":"t","i":9,"x":-15.3,"y":33.0},{"s":"t","i":10,"x":-16.2,"y":28.5},{"s":"t","i":11,"x":-16.0,"y":24.0},{"s":"t","i":12,"x":-14.7,"y":18.0},{"s":"t","i":13,"x":-11.0,"y":12.5},{"s":"t","i":14,"x":-6.5,"y":7.0},{"s":"t","i":15,"x":-3.0,"y":3.0},{"s":"t","i":16,"x":0.0,"y":0.0},{"s":"t","i":17,"x":-1.0,"y":-1.0},{"s":"t","i":18,"x":-4.0,"y":-4.5},{"s":"t","i":19,"x":-7.5,"y":-8.5},{"s":"t","i":20,"x":-11.0,"y":-12.5},{"s":"t","i":21,"x":-13.5,"y":-16.5},{"s":"t","i":22,"x":-15.2,"y":-21.0},{"s":"t","i":23,"x":-15.8,"y":-26.0},{"s":"t","i":24,"x":-15.7,"y":-31.0},{"s":"t","i":25,"x":-14.2,"y":-35.5},{"s":"t","i":26,"x":-11.5,"y":-38.5},{"s":"t","i":27,"x":-8.8,"y":-39.5},{"s":"t","i":28,"x":-5.5,"y":-39.3},{"s":"t","i":29,"x":-2.9,"y":-38.0},{"s":"t","i":30,"x":-0.5,"y":-35.0},{"s":"t","i":31,"x":1.2,"y":-30.0},{"s":"t","i":32,"x":1.8,"y":-23.0},{"s":"t","i":33,"x":2.0,"y":-16.0},{"s":"t","i":34,"x":1.5,"y":-8.0},{"s":"t","i":35,"x":0.0,"y":0.0}
 ],
 "d5500":[
{"s":"m","i":0,"x":2.0,"y":0.0},{"s":"m","i":1,"x":6.0,"y":1.5},{"s":"m","i":2,"x":8.0,"y":3.0},{"s":"m","i":3,"x":11.0,"y":4.5},{"s":"m","i":4,"x":12.7,"y":4.4},{"s":"m","i":5,"x":12.5,"y":6.5},{"s":"m","i":6,"x":11.8,"y":7.4},{"s":"m","i":7,"x":9.0,"y":6.0},{"s":"m","i":8,"x":6.0,"y":4.5},{"s":"m","i":9,"x":4.0,"y":4.5},{"s":"m","i":10,"x":7.0,"y":8.5},{"s":"m","i":11,"x":9.0,"y":11.0},{"s":"m","i":12,"x":10.3,"y":12.3},{"s":"m","i":13,"x":9.5,"y":14.0},{"s":"m","i":14,"x":8.8,"y":16.2},{"s":"m","i":15,"x":7.5,"y":15.5},{"s":"m","i":16,"x":6.9,"y":15.7},{"s":"m","i":17,"x":4.9,"y":16.2},{"s":"m","i":18,"x":3.4,"y":17.2},{"s":"m","i":19,"x":2.0,"y":21.1},{"s":"m","i":20,"x":1.2,"y":25.0},{"s":"m","i":21,"x":0.5,"y":28.9},{"s":"m","i":22,"x":-0.8,"y":33.0},{"s":"m","i":23,"x":-2.9,"y":37.3},{"s":"m","i":24,"x":-5.5,"y":38.3},{"s":"m","i":25,"x":-7.8,"y":38.2},{"s":"m","i":26,"x":-11.0,"y":37.0},{"s":"m","i":27,"x":-13.7,"y":34.8},{"s":"m","i":28,"x":-15.0,"y":31.5},{"s":"m","i":29,"x":-15.2,"y":28.9},{"s":"m","i":30,"x":-14.8,"y":25.0},{"s":"m","i":31,"x":-13.7,"y":21.1},{"s":"m","i":32,"x":-12.0,"y":17.5},{"s":"m","i":33,"x":-9.8,"y":14.2},{"s":"m","i":34,"x":-7.8,"y":11.5},{"s":"m","i":35,"x":-5.9,"y":9.3},{"s":"m","i":36,"x":-4.5,"y":7.0},{"s":"m","i":37,"x":-4.0,"y":5.0},{"s":"m","i":38,"x":-7.0,"y":5.0},{"s":"m","i":39,"x":-11.8,"y":5.0},{"s":"m","i":40,"x":-12.0,"y":3.5},{"s":"m","i":41,"x":-8.0,"y":2.5},{"s":"m","i":42,"x":-5.0,"y":1.5},{"s":"m","i":43,"x":-4.0,"y":0.0},{"s":"m","i":44,"x":-8.0,"y":-1.5},{"s":"m","i":45,"x":-13.0,"y":-2.5},{"s":"m","i":46,"x":-13.7,"y":-3.4},{"s":"m","i":47,"x":-12.5,"y":-4.5},{"s":"m","i":48,"x":-8.5,"y":-4.0},{"s":"m","i":49,"x":-4.9,"y":-5.4},{"s":"m","i":50,"x":-6.5,"y":-7.5},{"s":"m","i":51,"x":-8.8,"y":-10.3},{"s":"m","i":52,"x":-11.0,"y":-13.5},{"s":"m","i":53,"x":-13.7,"y":-17.2},{"s":"m","i":54,"x":-15.5,"y":-20.5},{"s":"m","i":55,"x":-16.5,"y":-24.0},{"s":"m","i":56,"x":-16.3,"y":-28.0},{"s":"m","i":57,"x":-15.2,"y":-31.9},{"s":"m","i":58,"x":-13.0,"y":-35.5},{"s":"m","i":59,"x":-10.5,"y":-38.0},{"s":"m","i":60,"x":-8.8,"y":-38.7},{"s":"m","i":61,"x":-5.5,"y":-38.5},{"s":"m","i":62,"x":-2.9,"y":-37.3},{"s":"m","i":63,"x":-1.0,"y":-34.0},{"s":"m","i":64,"x":0.5,"y":-29.9},{"s":"m","i":65,"x":1.2,"y":-25.0},{"s":"m","i":66,"x":1.5,"y":-21.1},{"s":"m","i":67,"x":2.0,"y":-15.2},{"s":"m","i":68,"x":3.5,"y":-15.5},{"s":"m","i":69,"x":4.0,"y":-17.0},{"s":"m","i":70,"x":5.5,"y":-16.0},{"s":"m","i":71,"x":7.0,"y":-16.5},{"s":"m","i":72,"x":8.8,"y":-16.2},{"s":"m","i":73,"x":7.5,"y":-13.0},{"s":"m","i":74,"x":5.0,"y":-8.0},{"s":"m","i":75,"x":3.5,"y":-5.0},{"s":"m","i":76,"x":7.0,"y":-6.5},{"s":"m","i":77,"x":10.5,"y":-9.0},{"s":"m","i":78,"x":12.3,"y":-10.8},{"s":"m","i":79,"x":11.5,"y":-8.5},{"s":"m","i":80,"x":9.0,"y":-5.5},{"s":"m","i":81,"x":5.0,"y":-2.5},{"s":"m","i":82,"x":2.0,"y":0.0},
{"s":"t","i":0,"x":0.0,"y":0.0},{"s":"t","i":1,"x":1.0,"y":8.0},{"s":"t","i":2,"x":1.2,"y":16.0},{"s":"t","i":3,"x":1.0,"y":24.0},{"s":"t","i":4,"x":0.0,"y":30.5},{"s":"t","i":5,"x":-2.5,"y":36.0},{"s":"t","i":6,"x":-5.5,"y":38.5},{"s":"t","i":7,"x":-8.0,"y":38.6},{"s":"t","i":8,"x":-11.0,"y":37.0},{"s":"t","i":9,"x":-13.7,"y":34.8},{"s":"t","i":10,"x":-15.0,"y":31.5},{"s":"t","i":11,"x":-15.0,"y":28.0},{"s":"t","i":12,"x":-14.0,"y":22.5},{"s":"t","i":13,"x":-11.5,"y":17.0},{"s":"t","i":14,"x":-8.0,"y":11.5},{"s":"t","i":15,"x":-4.5,"y":6.5},{"s":"t","i":16,"x":-1.5,"y":2.0},{"s":"t","i":17,"x":0.0,"y":0.0},{"s":"t","i":18,"x":-3.5,"y":-4.0},{"s":"t","i":19,"x":-6.5,"y":-7.5},{"s":"t","i":20,"x":-10.0,"y":-12.0},{"s":"t","i":21,"x":-13.3,"y":-17.0},{"s":"t","i":22,"x":-15.3,"y":-22.0},{"s":"t","i":23,"x":-16.0,"y":-27.0},{"s":"t","i":24,"x":-15.0,"y":-32.0},{"s":"t","i":25,"x":-12.5,"y":-36.0},{"s":"t","i":26,"x":-8.8,"y":-38.7},{"s":"t","i":27,"x":-5.0,"y":-38.5},{"s":"t","i":28,"x":-2.5,"y":-36.5},{"s":"t","i":29,"x":-0.5,"y":-32.0},{"s":"t","i":30,"x":0.5,"y":-25.0},{"s":"t","i":31,"x":1.0,"y":-17.0},{"s":"t","i":32,"x":1.0,"y":-8.0},{"s":"t","i":33,"x":0.0,"y":0.0}
 ],
 "d6500":[
{"s":"m","i":0,"x":2.0,"y":0.0},{"s":"m","i":1,"x":6.0,"y":1.5},{"s":"m","i":2,"x":9.0,"y":3.5},{"s":"m","i":3,"x":12.0,"y":6.5},{"s":"m","i":4,"x":12.9,"y":8.0},{"s":"m","i":5,"x":12.9,"y":9.5},{"s":"m","i":6,"x":12.0,"y":11.5},{"s":"m","i":7,"x":10.0,"y":12.0},{"s":"m","i":8,"x":7.5,"y":11.5},{"s":"m","i":9,"x":6.5,"y":13.0},{"s":"m","i":10,"x":5.0,"y":14.4},{"s":"m","i":11,"x":4.0,"y":12.5},{"s":"m","i":12,"x":2.6,"y":15.4},{"s":"m","i":13,"x":1.8,"y":12.0},{"s":"m","i":14,"x":1.0,"y":16.0},{"s":"m","i":15,"x":0.7,"y":20.2},{"s":"m","i":16,"x":0.0,"y":24.0},{"s":"m","i":17,"x":-0.8,"y":28.1},{"s":"m","i":18,"x":-2.5,"y":32.0},{"s":"m","i":19,"x":-4.2,"y":35.0},{"s":"m","i":20,"x":-6.5,"y":36.5},{"s":"m","i":21,"x":-8.6,"y":36.5},{"s":"m","i":22,"x":-11.0,"y":35.5},{"s":"m","i":23,"x":-13.0,"y":33.0},{"s":"m","i":24,"x":-13.8,"y":30.0},{"s":"m","i":25,"x":-13.5,"y":26.2},{"s":"m","i":26,"x":-12.9,"y":23.0},{"s":"m","i":27,"x":-12.1,"y":20.2},{"s":"m","i":28,"x":-10.5,"y":17.0},{"s":"m","i":29,"x":-9.1,"y":14.4},{"s":"m","i":30,"x":-7.0,"y":11.5},{"s":"m","i":31,"x":-9.0,"y":12.0},{"s":"m","i":32,"x":-10.6,"y":11.5},{"s":"m","i":33,"x":-10.2,"y":9.0},{"s":"m","i":34,"x":-8.0,"y":6.5},{"s":"m","i":35,"x":-5.0,"y":4.0},{"s":"m","i":36,"x":-3.5,"y":1.0},{"s":"m","i":37,"x":-6.0,"y":0.5},{"s":"m","i":38,"x":-3.0,"y":-0.5},{"s":"m","i":39,"x":-8.0,"y":-2.0},{"s":"m","i":40,"x":-14.5,"y":-3.5},{"s":"m","i":41,"x":-15.0,"y":-5.0},{"s":"m","i":42,"x":-14.5,"y":-8.0},{"s":"m","i":43,"x":-12.1,"y":-10.1},{"s":"m","i":44,"x":-10.0,"y":-9.0},{"s":"m","i":45,"x":-8.0,"y":-7.5},{"s":"m","i":46,"x":-6.5,"y":-7.0},{"s":"m","i":47,"x":-5.0,"y":-6.0},{"s":"m","i":48,"x":-7.0,"y":-9.5},{"s":"m","i":49,"x":-9.5,"y":-13.0},{"s":"m","i":50,"x":-12.0,"y":-17.0},{"s":"m","i":51,"x":-13.8,"y":-21.0},{"s":"m","i":52,"x":-14.5,"y":-25.0},{"s":"m","i":53,"x":-14.3,"y":-29.0},{"s":"m","i":54,"x":-13.0,"y":-31.7},{"s":"m","i":55,"x":-11.0,"y":-35.5},{"s":"m","i":56,"x":-7.6,"y":-38.0},{"s":"m","i":57,"x":-4.5,"y":-37.5},{"s":"m","i":58,"x":-2.0,"y":-35.5},{"s":"m","i":59,"x":-0.3,"y":-33.6},{"s":"m","i":60,"x":0.5,"y":-29.0},{"s":"m","i":61,"x":0.7,"y":-24.8},{"s":"m","i":62,"x":1.2,"y":-16.0},{"s":"m","i":63,"x":2.6,"y":-16.0},{"s":"m","i":64,"x":2.5,"y":-12.0},{"s":"m","i":65,"x":4.5,"y":-9.0},{"s":"m","i":66,"x":8.0,"y":-10.5},{"s":"m","i":67,"x":11.0,"y":-12.5},{"s":"m","i":68,"x":12.9,"y":-13.0},{"s":"m","i":69,"x":12.7,"y":-10.0},{"s":"m","i":70,"x":12.5,"y":-8.1},{"s":"m","i":71,"x":10.0,"y":-6.0},{"s":"m","i":72,"x":7.0,"y":-3.5},{"s":"m","i":73,"x":4.0,"y":-1.0},{"s":"m","i":74,"x":2.0,"y":0.0},
{"s":"t","i":0,"x":0.0,"y":0.0},{"s":"t","i":1,"x":0.3,"y":8.0},{"s":"t","i":2,"x":0.3,"y":16.0},{"s":"t","i":3,"x":0.0,"y":24.0},{"s":"t","i":4,"x":-1.0,"y":30.0},{"s":"t","i":5,"x":-3.2,"y":35.5},{"s":"t","i":6,"x":-6.0,"y":38.5},{"s":"t","i":7,"x":-9.6,"y":38.9},{"s":"t","i":8,"x":-12.5,"y":37.0},{"s":"t","i":9,"x":-14.5,"y":34.0},{"s":"t","i":10,"x":-15.0,"y":29.5},{"s":"t","i":11,"x":-14.5,"y":25.0},{"s":"t","i":12,"x":-13.0,"y":20.0},{"s":"t","i":13,"x":-10.5,"y":15.5},{"s":"t","i":14,"x":-7.0,"y":10.5},{"s":"t","i":15,"x":-3.5,"y":5.0},{"s":"t","i":16,"x":-1.0,"y":1.0},{"s":"t","i":17,"x":0.0,"y":0.0},{"s":"t","i":18,"x":-4.0,"y":-6.0},{"s":"t","i":19,"x":-7.5,"y":-10.0},{"s":"t","i":20,"x":-11.5,"y":-15.0},{"s":"t","i":21,"x":-14.0,"y":-20.0},{"s":"t","i":22,"x":-15.2,"y":-25.0},{"s":"t","i":23,"x":-15.0,"y":-30.0},{"s":"t","i":24,"x":-13.0,"y":-34.5},{"s":"t","i":25,"x":-10.0,"y":-37.3},{"s":"t","i":26,"x":-7.0,"y":-38.5},{"s":"t","i":27,"x":-4.0,"y":-37.8},{"s":"t","i":28,"x":-1.5,"y":-35.5},{"s":"t","i":29,"x":0.0,"y":-31.0},{"s":"t","i":30,"x":0.5,"y":-24.0},{"s":"t","i":31,"x":0.7,"y":-16.0},{"s":"t","i":32,"x":0.5,"y":-8.0},{"s":"t","i":33,"x":0.0,"y":0.0}
 ]
},
"spacing":143,
"vconcat":[
{"spacing":96,"vconcat":[
 {"spacing":156,"hconcat":[
  {"title":"500 Hz","width":278,"height":271,"resolve":{"axis":{"y":"independent"}},"layer":[
   {"data":{"name":"spokes"},"mark":{"type":"rule","strokeDash":[1.5,4],"strokeWidth":1.3,"color":"#111"},"encoding":{"x":{"field":"x","type":"quantitative","scale":{"domain":[-41,41],"nice":false,"zero":false},"axis":null},"y":{"field":"y","type":"quantitative","scale":{"domain":[-40,40],"nice":false,"zero":false},"axis":{"values":[-40,-20,0,20,40],"title":"Decibels"}},"x2":{"field":"x2"},"y2":{"field":"y2"}}},
   {"data":{"name":"center"},"mark":{"type":"point","shape":"circle","filled":false,"opacity":1,"size":73549,"strokeDash":[1.5,4],"strokeWidth":1.3,"color":"#111"},"encoding":{"x":{"field":"x","type":"quantitative","axis":null},"y":{"field":"y","type":"quantitative","axis":{"orient":"right","values":[-40,-20,0,20,40],"labels":false,"title":null}}}},
   {"data":{"name":"center"},"mark":{"type":"point","shape":"circle","filled":false,"opacity":1,"size":18360,"strokeDash":[1.5,4],"strokeWidth":1.3,"color":"#111"},"encoding":{"x":{"field":"x","type":"quantitative","axis":null},"y":{"field":"y","type":"quantitative","axis":null}}},
   {"data":{"name":"d500"},"transform":[{"filter":"datum.s=='t'"}],"mark":{"type":"line","strokeDash":[7,4],"strokeWidth":2.2,"color":"black"},"encoding":{"x":{"field":"x","type":"quantitative","axis":null},"y":{"field":"y","type":"quantitative","axis":null},"order":{"field":"i","type":"quantitative"}}},
   {"data":{"name":"d500"},"transform":[{"filter":"datum.s=='m'"}],"mark":{"type":"line","strokeWidth":2.6,"color":"black"},"encoding":{"x":{"field":"x","type":"quantitative","axis":null},"y":{"field":"y","type":"quantitative","axis":null},"order":{"field":"i","type":"quantitative"}}}
  ]},
  {"title":"1500 Hz","width":273,"height":271,"resolve":{"axis":{"y":"independent"}},"layer":[
   {"data":{"name":"spokes"},"mark":{"type":"rule","strokeDash":[1.5,4],"strokeWidth":1.3,"color":"#111"},"encoding":{"x":{"field":"x","type":"quantitative","scale":{"domain":[-40.7,39.8],"nice":false,"zero":false},"axis":null},"y":{"field":"y","type":"quantitative","scale":{"domain":[-40,40],"nice":false,"zero":false},"axis":{"values":[-40,-20,0,20,40],"title":"Decibels"}},"x2":{"field":"x2"},"y2":{"field":"y2"}}},
   {"data":{"name":"center"},"mark":{"type":"point","shape":"circle","filled":false,"opacity":1,"size":73549,"strokeDash":[1.5,4],"strokeWidth":1.3,"color":"#111"},"encoding":{"x":{"field":"x","type":"quantitative","axis":null},"y":{"field":"y","type":"quantitative","axis":{"orient":"right","values":[-40,-20,0,20,40],"labels":false,"title":null}}}},
   {"data":{"name":"center"},"mark":{"type":"point","shape":"circle","filled":false,"opacity":1,"size":18360,"strokeDash":[1.5,4],"strokeWidth":1.3,"color":"#111"},"encoding":{"x":{"field":"x","type":"quantitative","axis":null},"y":{"field":"y","type":"quantitative","axis":null}}},
   {"data":{"name":"d1500"},"transform":[{"filter":"datum.s=='t'"}],"mark":{"type":"line","strokeDash":[7,4],"strokeWidth":2.2,"color":"black"},"encoding":{"x":{"field":"x","type":"quantitative","axis":null},"y":{"field":"y","type":"quantitative","axis":null},"order":{"field":"i","type":"quantitative"}}},
   {"data":{"name":"d1500"},"transform":[{"filter":"datum.s=='m'"}],"mark":{"type":"line","strokeWidth":2.6,"color":"black"},"encoding":{"x":{"field":"x","type":"quantitative","axis":null},"y":{"field":"y","type":"quantitative","axis":null},"order":{"field":"i","type":"quantitative"}}}
  ]}
 ]},
 {"spacing":156,"hconcat":[
  {"title":"2500 Hz","width":278,"height":271,"resolve":{"axis":{"y":"independent"}},"layer":[
   {"data":{"name":"spokes"},"mark":{"type":"rule","strokeDash":[1.5,4],"strokeWidth":1.3,"color":"#111"},"encoding":{"x":{"field":"x","type":"quantitative","scale":{"domain":[-41,41],"nice":false,"zero":false},"axis":null},"y":{"field":"y","type":"quantitative","scale":{"domain":[-40,40],"nice":false,"zero":false},"axis":{"values":[-40,-20,0,20,40],"title":"Decibels"}},"x2":{"field":"x2"},"y2":{"field":"y2"}}},
   {"data":{"name":"center"},"mark":{"type":"point","shape":"circle","filled":false,"opacity":1,"size":73549,"strokeDash":[1.5,4],"strokeWidth":1.3,"color":"#111"},"encoding":{"x":{"field":"x","type":"quantitative","axis":null},"y":{"field":"y","type":"quantitative","axis":{"orient":"right","values":[-40,-20,0,20,40],"labels":false,"title":null}}}},
   {"data":{"name":"center"},"mark":{"type":"point","shape":"circle","filled":false,"opacity":1,"size":18360,"strokeDash":[1.5,4],"strokeWidth":1.3,"color":"#111"},"encoding":{"x":{"field":"x","type":"quantitative","axis":null},"y":{"field":"y","type":"quantitative","axis":null}}},
   {"data":{"name":"d2500"},"transform":[{"filter":"datum.s=='t'"}],"mark":{"type":"line","strokeDash":[7,4],"strokeWidth":2.2,"color":"black"},"encoding":{"x":{"field":"x","type":"quantitative","axis":null},"y":{"field":"y","type":"quantitative","axis":null},"order":{"field":"i","type":"quantitative"}}},
   {"data":{"name":"d2500"},"transform":[{"filter":"datum.s=='m'"}],"mark":{"type":"line","strokeWidth":2.6,"color":"black"},"encoding":{"x":{"field":"x","type":"quantitative","axis":null},"y":{"field":"y","type":"quantitative","axis":null},"order":{"field":"i","type":"quantitative"}}}
  ]},
  {"title":"3500 Hz","width":273,"height":271,"resolve":{"axis":{"y":"independent"}},"layer":[
   {"data":{"name":"spokes"},"mark":{"type":"rule","strokeDash":[1.5,4],"strokeWidth":1.3,"color":"#111"},"encoding":{"x":{"field":"x","type":"quantitative","scale":{"domain":[-40.7,39.8],"nice":false,"zero":false},"axis":null},"y":{"field":"y","type":"quantitative","scale":{"domain":[-40,40],"nice":false,"zero":false},"axis":{"values":[-40,-20,0,20,40],"title":"Decibels"}},"x2":{"field":"x2"},"y2":{"field":"y2"}}},
   {"data":{"name":"center"},"mark":{"type":"point","shape":"circle","filled":false,"opacity":1,"size":73549,"strokeDash":[1.5,4],"strokeWidth":1.3,"color":"#111"},"encoding":{"x":{"field":"x","type":"quantitative","axis":null},"y":{"field":"y","type":"quantitative","axis":{"orient":"right","values":[-40,-20,0,20,40],"labels":false,"title":null}}}},
   {"data":{"name":"center"},"mark":{"type":"point","shape":"circle","filled":false,"opacity":1,"size":18360,"strokeDash":[1.5,4],"strokeWidth":1.3,"color":"#111"},"encoding":{"x":{"field":"x","type":"quantitative","axis":null},"y":{"field":"y","type":"quantitative","axis":null}}},
   {"data":{"name":"d3500"},"transform":[{"filter":"datum.s=='t'"}],"mark":{"type":"line","strokeDash":[7,4],"strokeWidth":2.2,"color":"black"},"encoding":{"x":{"field":"x","type":"quantitative","axis":null},"y":{"field":"y","type":"quantitative","axis":null},"order":{"field":"i","type":"quantitative"}}},
   {"data":{"name":"d3500"},"transform":[{"filter":"datum.s=='m'"}],"mark":{"type":"line","strokeWidth":2.6,"color":"black"},"encoding":{"x":{"field":"x","type":"quantitative","axis":null},"y":{"field":"y","type":"quantitative","axis":null},"order":{"field":"i","type":"quantitative"}}}
  ]}
 ]}
]},
{"spacing":97,"vconcat":[
 {"spacing":156,"hconcat":[
  {"title":"4500 Hz","width":278,"height":271,"resolve":{"axis":{"y":"independent"}},"layer":[
   {"data":{"name":"spokes"},"mark":{"type":"rule","strokeDash":[1.5,4],"strokeWidth":1.3,"color":"#111"},"encoding":{"x":{"field":"x","type":"quantitative","scale":{"domain":[-41,41],"nice":false,"zero":false},"axis":null},"y":{"field":"y","type":"quantitative","scale":{"domain":[-40,40],"nice":false,"zero":false},"axis":{"values":[-40,-20,0,20,40],"title":"Decibels"}},"x2":{"field":"x2"},"y2":{"field":"y2"}}},
   {"data":{"name":"center"},"mark":{"type":"point","shape":"circle","filled":false,"opacity":1,"size":73549,"strokeDash":[1.5,4],"strokeWidth":1.3,"color":"#111"},"encoding":{"x":{"field":"x","type":"quantitative","axis":null},"y":{"field":"y","type":"quantitative","axis":{"orient":"right","values":[-40,-20,0,20,40],"labels":false,"title":null}}}},
   {"data":{"name":"center"},"mark":{"type":"point","shape":"circle","filled":false,"opacity":1,"size":18360,"strokeDash":[1.5,4],"strokeWidth":1.3,"color":"#111"},"encoding":{"x":{"field":"x","type":"quantitative","axis":null},"y":{"field":"y","type":"quantitative","axis":null}}},
   {"data":{"name":"d4500"},"transform":[{"filter":"datum.s=='t'"}],"mark":{"type":"line","strokeDash":[7,4],"strokeWidth":2.2,"color":"black"},"encoding":{"x":{"field":"x","type":"quantitative","axis":null},"y":{"field":"y","type":"quantitative","axis":null},"order":{"field":"i","type":"quantitative"}}},
   {"data":{"name":"d4500"},"transform":[{"filter":"datum.s=='m'"}],"mark":{"type":"line","strokeWidth":2.6,"color":"black"},"encoding":{"x":{"field":"x","type":"quantitative","axis":null},"y":{"field":"y","type":"quantitative","axis":null},"order":{"field":"i","type":"quantitative"}}}
  ]},
  {"title":"5000 Hz","width":273,"height":271,"resolve":{"axis":{"y":"independent"}},"layer":[
   {"data":{"name":"spokes"},"mark":{"type":"rule","strokeDash":[1.5,4],"strokeWidth":1.3,"color":"#111"},"encoding":{"x":{"field":"x","type":"quantitative","scale":{"domain":[-40.7,39.8],"nice":false,"zero":false},"axis":null},"y":{"field":"y","type":"quantitative","scale":{"domain":[-40,40],"nice":false,"zero":false},"axis":{"values":[-40,-20,0,20,40],"title":"Decibels"}},"x2":{"field":"x2"},"y2":{"field":"y2"}}},
   {"data":{"name":"center"},"mark":{"type":"point","shape":"circle","filled":false,"opacity":1,"size":73549,"strokeDash":[1.5,4],"strokeWidth":1.3,"color":"#111"},"encoding":{"x":{"field":"x","type":"quantitative","axis":null},"y":{"field":"y","type":"quantitative","axis":{"orient":"right","values":[-40,-20,0,20,40],"labels":false,"title":null}}}},
   {"data":{"name":"center"},"mark":{"type":"point","shape":"circle","filled":false,"opacity":1,"size":18360,"strokeDash":[1.5,4],"strokeWidth":1.3,"color":"#111"},"encoding":{"x":{"field":"x","type":"quantitative","axis":null},"y":{"field":"y","type":"quantitative","axis":null}}},
   {"data":{"name":"d5000"},"transform":[{"filter":"datum.s=='t'"}],"mark":{"type":"line","strokeDash":[7,4],"strokeWidth":2.2,"color":"black"},"encoding":{"x":{"field":"x","type":"quantitative","axis":null},"y":{"field":"y","type":"quantitative","axis":null},"order":{"field":"i","type":"quantitative"}}},
   {"data":{"name":"d5000"},"transform":[{"filter":"datum.s=='m'"}],"mark":{"type":"line","strokeWidth":2.6,"color":"black"},"encoding":{"x":{"field":"x","type":"quantitative","axis":null},"y":{"field":"y","type":"quantitative","axis":null},"order":{"field":"i","type":"quantitative"}}}
  ]}
 ]},
 {"spacing":156,"hconcat":[
  {"title":"5500 Hz","width":278,"height":271,"resolve":{"axis":{"y":"independent"}},"layer":[
   {"data":{"name":"spokes"},"mark":{"type":"rule","strokeDash":[1.5,4],"strokeWidth":1.3,"color":"#111"},"encoding":{"x":{"field":"x","type":"quantitative","scale":{"domain":[-41,41],"nice":false,"zero":false},"axis":null},"y":{"field":"y","type":"quantitative","scale":{"domain":[-40,40],"nice":false,"zero":false},"axis":{"values":[-40,-20,0,20,40],"title":"Decibels"}},"x2":{"field":"x2"},"y2":{"field":"y2"}}},
   {"data":{"name":"center"},"mark":{"type":"point","shape":"circle","filled":false,"opacity":1,"size":73549,"strokeDash":[1.5,4],"strokeWidth":1.3,"color":"#111"},"encoding":{"x":{"field":"x","type":"quantitative","axis":null},"y":{"field":"y","type":"quantitative","axis":{"orient":"right","values":[-40,-20,0,20,40],"labels":false,"title":null}}}},
   {"data":{"name":"center"},"mark":{"type":"point","shape":"circle","filled":false,"opacity":1,"size":18360,"strokeDash":[1.5,4],"strokeWidth":1.3,"color":"#111"},"encoding":{"x":{"field":"x","type":"quantitative","axis":null},"y":{"field":"y","type":"quantitative","axis":null}}},
   {"data":{"name":"d5500"},"transform":[{"filter":"datum.s=='t'"}],"mark":{"type":"line","strokeDash":[7,4],"strokeWidth":2.2,"color":"black"},"encoding":{"x":{"field":"x","type":"quantitative","axis":null},"y":{"field":"y","type":"quantitative","axis":null},"order":{"field":"i","type":"quantitative"}}},
   {"data":{"name":"d5500"},"transform":[{"filter":"datum.s=='m'"}],"mark":{"type":"line","strokeWidth":2.6,"color":"black"},"encoding":{"x":{"field":"x","type":"quantitative","axis":null},"y":{"field":"y","type":"quantitative","axis":null},"order":{"field":"i","type":"quantitative"}}}
  ]},
  {"title":"6500 Hz","width":273,"height":271,"resolve":{"axis":{"y":"independent"}},"layer":[
   {"data":{"name":"spokes"},"mark":{"type":"rule","strokeDash":[1.5,4],"strokeWidth":1.3,"color":"#111"},"encoding":{"x":{"field":"x","type":"quantitative","scale":{"domain":[-40.7,39.8],"nice":false,"zero":false},"axis":null},"y":{"field":"y","type":"quantitative","scale":{"domain":[-40,40],"nice":false,"zero":false},"axis":{"values":[-40,-20,0,20,40],"title":"Decibels"}},"x2":{"field":"x2"},"y2":{"field":"y2"}}},
   {"data":{"name":"center"},"mark":{"type":"point","shape":"circle","filled":false,"opacity":1,"size":73549,"strokeDash":[1.5,4],"strokeWidth":1.3,"color":"#111"},"encoding":{"x":{"field":"x","type":"quantitative","axis":null},"y":{"field":"y","type":"quantitative","axis":{"orient":"right","values":[-40,-20,0,20,40],"labels":false,"title":null}}}},
   {"data":{"name":"center"},"mark":{"type":"point","shape":"circle","filled":false,"opacity":1,"size":18360,"strokeDash":[1.5,4],"strokeWidth":1.3,"color":"#111"},"encoding":{"x":{"field":"x","type":"quantitative","axis":null},"y":{"field":"y","type":"quantitative","axis":null}}},
   {"data":{"name":"d6500"},"transform":[{"filter":"datum.s=='t'"}],"mark":{"type":"line","strokeDash":[7,4],"strokeWidth":2.2,"color":"black"},"encoding":{"x":{"field":"x","type":"quantitative","axis":null},"y":{"field":"y","type":"quantitative","axis":null},"order":{"field":"i","type":"quantitative"}}},
   {"data":{"name":"d6500"},"transform":[{"filter":"datum.s=='m'"}],"mark":{"type":"line","strokeWidth":2.6,"color":"black"},"encoding":{"x":{"field":"x","type":"quantitative","axis":null},"y":{"field":"y","type":"quantitative","axis":null},"order":{"field":"i","type":"quantitative"}}}
  ]}
 ]}
]}
]
}
